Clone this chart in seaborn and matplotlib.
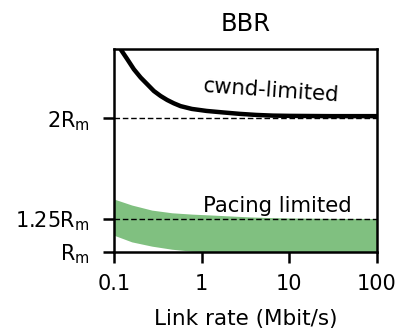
import matplotlib
matplotlib.use("Agg")
import matplotlib.pyplot as plt
import seaborn as sns
import pandas as pd

# cwnd-limited curve (in units of Rm)
cwnd_x = [0.1, 0.119, 0.142, 0.169, 0.202, 0.240, 0.286, 0.341, 0.405, 0.483,
          0.576, 0.775, 1.14, 1.74, 2.73, 4.2, 6.5, 10.1, 30, 100]
cwnd_y = [2.66, 2.519, 2.444, 2.368, 2.306, 2.256, 2.205, 2.168, 2.138, 2.113,
          2.092, 2.071, 2.056, 2.045, 2.034, 2.026, 2.021, 2.019, 2.017, 2.017]

# pacing-limited band
band_x = [0.1, 0.16, 0.271, 0.458, 0.775, 1.31, 2.3, 3.55, 6, 10, 30, 100]
band_hi = [1.396, 1.351, 1.313, 1.293, 1.283, 1.276, 1.268, 1.262, 1.257, 1.254, 1.251, 1.25]
band_lo = [1.125, 1.075, 1.043, 1.020, 1.005, 1.0, 1.0, 1.0, 1.0, 1.0, 1.0, 1.0]

ytick_vals = [1.0, 1.25, 2.0]
ytick_labels = [r"R$_\mathrm{m}$", r"1.25R$_\mathrm{m}$", r"2R$_\mathrm{m}$"]
xtick_vals = [0.1, 1, 10, 100]
xtick_labels = ["0.1", "1", "10", "100"]

sns.set_style("ticks")
plt.rcParams['font.family'] = ['DejaVu Sans']
plt.rcParams['mathtext.default'] = 'regular'
plt.rcParams['text.color'] = 'black'

fig = plt.figure(figsize=(4.01, 3.31), dpi=100)
ax = fig.add_axes([0.284, 0.239, 0.656, 0.613])

ax.fill_between(band_x, band_lo, band_hi, color="#80c080", linewidth=0)
df = pd.DataFrame({"x": cwnd_x, "y": cwnd_y})
sns.lineplot(data=df, x="x", y="y", ax=ax, color="black", linewidth=3.2)

ax.axhline(2.0, color="black", linestyle="--", linewidth=1, dashes=(4, 2))
ax.axhline(1.25, color="black", linestyle="--", linewidth=1, dashes=(4, 2))

ax.set_xscale("log")
ax.set_xlim(0.1, 100)
ax.set_ylim(1.0, 2.52)
ax.set_xticks(xtick_vals)
ax.set_xticklabels(xtick_labels)
ax.xaxis.set_minor_locator(matplotlib.ticker.NullLocator())
ax.set_yticks(ytick_vals)
ax.set_yticklabels(ytick_labels)
ax.tick_params(axis="x", which="major", labelsize=15, length=8, width=1.8,
               pad=8, color="black", labelcolor="black")
ax.tick_params(axis="y", which="major", labelsize=15, length=8, width=1.8,
               pad=9.5, color="black", labelcolor="black")
for s in ax.spines.values():
    s.set_linewidth(1.8)
    s.set_color("black")
    s.set_visible(True)

ax.set_xlabel("Link rate (Mbit/s)", fontsize=15.5, color="black", labelpad=11)
ax.set_ylabel("")
ax.set_title("BBR", fontsize=17.5, pad=13, color="black")

ax.text(6.3, 2.21, "cwnd-limited", fontsize=15.3, rotation=-4, ha="center", va="center")
ax.text(7.4, 1.30, "Pacing limited", fontsize=15.3, ha="center", va="baseline")

fig.savefig("out.png", dpi=100)
